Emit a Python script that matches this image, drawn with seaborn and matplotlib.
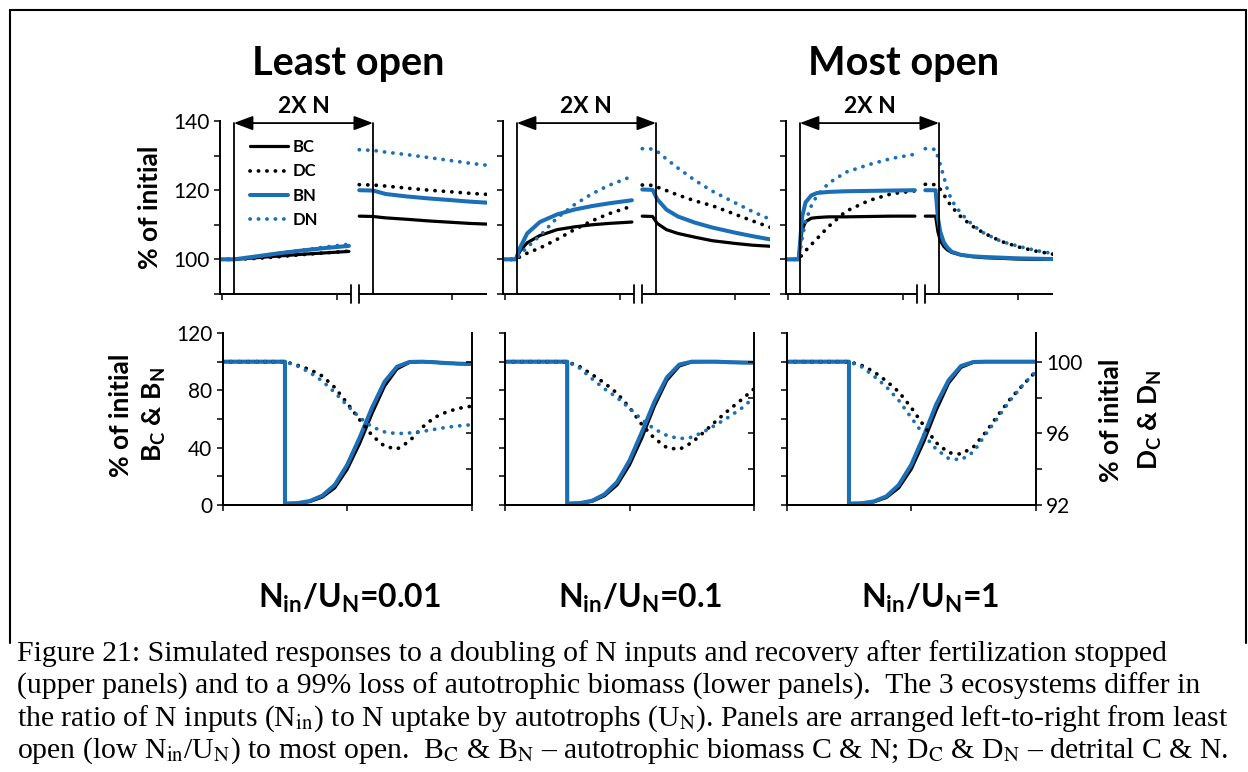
import matplotlib
matplotlib.use("Agg")
import matplotlib.pyplot as plt
from matplotlib.lines import Line2D
import seaborn as sns

# ---------------- upper panels: doubling of N inputs, then recovery ----------------
# time axis (arbitrary units); the axis is broken between the start of
# fertilization and the long-term state reached just before it stops
FERT_ON, FERT_OFF = 0.10, 1.31
BREAK_L, BREAK_R = 1.115, 1.19

# least open (N_in/U_N = 0.01)
p1_t_on = [-0.02, 0.10, 0.30, 0.50, 0.70, 0.90, 1.10]
p1_bc_on = [100, 100, 100.5, 101.0, 101.5, 101.9, 102.3]
p1_dc_on = [100, 100, 100.3, 100.8, 101.4, 101.9, 102.4]
p1_bn_on = [100, 100, 100.9, 101.8, 102.6, 103.3, 103.9]
p1_dn_on = [100, 100, 100.8, 101.8, 102.7, 103.6, 104.4]
p1_t_off = [1.19, 1.31, 1.42, 1.60, 1.80, 2.00, 2.15, 2.30]
p1_bc_off = [112.5, 112.4, 112.0, 111.6, 111.1, 110.7, 110.4, 110.2]
p1_dc_off = [121.6, 121.5, 121.2, 120.6, 120.0, 119.5, 119.1, 118.8]
p1_bn_off = [120.0, 119.9, 118.9, 118.2, 117.6, 117.1, 116.7, 116.4]
p1_dn_off = [131.7, 131.5, 131.0, 130.3, 129.4, 128.5, 127.8, 127.2]

# intermediate (N_in/U_N = 0.1)
p2_t_on = [-0.02, 0.09, 0.13, 0.19, 0.30, 0.45, 0.60, 0.75, 0.90, 1.10]
p2_bc_on = [100, 100, 102.5, 104.8, 106.9, 108.6, 109.4, 110.0, 110.4, 110.8]
p2_dc_on = [100, 100, 100.8, 101.8, 103.3, 105.8, 108.6, 111.1, 113.2, 115.4]
p2_bn_on = [100, 100, 103.5, 107.5, 110.8, 113.0, 114.4, 115.4, 116.2, 117.1]
p2_dn_on = [100, 100, 101.5, 103.5, 106.8, 112.0, 115.8, 118.9, 121.4, 124.0]
p2_t_off = [1.19, 1.28, 1.32, 1.40, 1.50, 1.65, 1.80, 2.00, 2.15, 2.30]
p2_bc_off = [112.5, 112.4, 110.4, 108.6, 107.5, 106.4, 105.4, 104.6, 104.1, 103.8]
p2_dc_off = [121.5, 121.4, 120.9, 119.9, 118.6, 116.9, 115.5, 113.0, 111.1, 109.3]
p2_bn_off = [120.2, 120.1, 117.4, 114.4, 112.4, 110.6, 109.2, 107.7, 106.7, 105.8]
p2_dn_off = [132.0, 131.9, 131.2, 129.0, 126.4, 122.8, 119.7, 116.3, 113.8, 111.6]

# most open (N_in/U_N = 1)
p3_t_on = [-0.02, 0.09, 0.10, 0.12, 0.15, 0.20, 0.25, 0.35, 0.50, 0.70, 0.90, 1.10]
p3_bc_on = [100, 100, 103.5, 108.5, 110.9, 111.9, 112.1, 112.3, 112.3, 112.4, 112.5, 112.5]
p3_dc_on = [100, 100, 100.5, 101.3, 102.5, 104.3, 106.0, 109.5, 113.9, 117.0, 119.0, 119.8]
p3_bn_on = [100, 100, 104.0, 112.3, 116.5, 118.5, 119.2, 119.5, 119.7, 119.8, 119.9, 120.0]
p3_dn_on = [100, 100, 101.5, 106.0, 111.0, 115.5, 118.5, 122.0, 125.2, 127.4, 129.2, 130.4]
p3_t_off = [1.19, 1.28, 1.30, 1.32, 1.35, 1.38, 1.42, 1.50, 1.60, 1.70, 1.85, 2.00, 2.15, 2.30]
p3_bc_off = [112.5, 112.5, 108.0, 105.5, 103.8, 102.8, 102.0, 101.3, 100.8, 100.5, 100.3, 100.1, 100.0, 100.0]
p3_dc_off = [121.7, 121.6, 121.0, 120.3, 118.8, 117.1, 115.2, 112.3, 109.6, 107.6, 105.2, 103.6, 102.4, 101.5]
p3_bn_off = [120.0, 120.0, 112.0, 108.0, 105.0, 103.5, 102.2, 101.3, 100.9, 100.7, 100.5, 100.3, 100.2, 100.1]
p3_dn_off = [132.0, 131.8, 129.5, 127.5, 124.0, 120.5, 117.0, 113.3, 110.0, 107.6, 105.2, 103.8, 102.6, 101.7]

# ---------------- lower panels: 99% loss of autotrophic biomass ----------------
lo_t_b = [0.0, 0.5, 0.5, 0.6, 0.7, 0.8, 0.9, 1.0, 1.1, 1.2, 1.3, 1.4, 1.5, 1.6, 1.7, 1.8, 1.9, 2.0]
lo_t_d = [0.0, 0.5, 0.6, 0.7, 0.8, 0.9, 1.0, 1.1, 1.2, 1.3, 1.4, 1.5, 1.6, 1.7, 1.8, 1.9, 2.0]

q1_bc = [100, 100, 1, 1.2, 2.4, 5.5, 12, 25, 43, 64, 83, 95, 99.5, 100, 99.6, 99.0, 98.6, 98.4]
q1_bn = [100, 100, 1, 1.3, 2.8, 6.5, 14, 28, 47, 68, 86, 96.5, 99.8, 100, 99.6, 99.0, 98.6, 98.4]
q1_dc = [100, 100, 99.80, 99.56, 99.20, 98.56, 97.68, 96.76, 95.88, 95.28, 95.12, 95.56, 96.32, 96.88, 97.20, 97.40, 97.52]
q1_dn = [100, 100, 99.76, 99.40, 98.92, 98.28, 97.56, 96.88, 96.36, 96.08, 95.98, 96.02, 96.10, 96.22, 96.34, 96.42, 96.48]

q2_bc = [100, 100, 1, 1.2, 2.6, 6.5, 14, 28, 47, 69, 87, 97, 99.8, 100, 100, 99.6, 99.4, 99.3]
q2_bn = [100, 100, 1, 1.3, 3.0, 7.5, 16, 31, 51, 72, 89, 98, 100, 100, 100, 99.6, 99.4, 99.3]
q2_dc = [100, 100, 99.72, 99.28, 98.80, 98.24, 97.44, 96.48, 95.72, 95.20, 95.10, 95.48, 96.08, 96.72, 97.32, 97.88, 98.48]
q2_dn = [100, 100, 99.64, 99.04, 98.48, 98.00, 97.40, 96.76, 96.24, 95.88, 95.70, 95.78, 96.10, 96.50, 96.92, 97.40, 98.00]

q3_bc = [100, 100, 1, 1.1, 2.2, 5.2, 12, 25, 44, 66, 85, 96, 99.6, 100, 100, 100, 100, 100]
q3_bn = [100, 100, 1, 1.2, 2.5, 6, 14, 28, 48, 70, 87, 97, 99.8, 100, 100, 100, 100, 100]
q3_dc = [100, 100, 99.80, 99.44, 98.92, 98.32, 97.44, 96.44, 95.48, 94.92, 94.84, 95.24, 96.08, 97.04, 97.96, 98.72, 99.44]
q3_dn = [100, 100, 99.72, 99.20, 98.60, 97.84, 96.88, 95.92, 95.12, 94.60, 94.52, 94.96, 95.96, 96.92, 97.88, 98.72, 99.44]

# labels
col_titles = ["Least open", "Most open"]
ratio_labels = [r"$\mathbf{N_{in}/U_{N}}$=0.01", r"$\mathbf{N_{in}/U_{N}}$=0.1", r"$\mathbf{N_{in}/U_{N}}$=1"]
upper_yticks = [90, 100, 110, 120, 130, 140]
upper_yticklabels = ["", "100", "", "120", "", "140"]
lower_yticks = [0, 20, 40, 60, 80, 100, 120]
lower_yticklabels = ["0", "", "40", "", "80", "", "120"]
det_yticks = [92, 94, 96, 98, 100]
det_yticklabels = ["92", "", "96", "", "100"]
caption_lines = [
    "Figure 21: Simulated responses to a doubling of N inputs and recovery after fertilization stopped",
    "(upper panels) and to a 99% loss of autotrophic biomass (lower panels).  The 3 ecosystems differ in",
    r"the ratio of N inputs (N$_{\mathrm{in}}$) to N uptake by autotrophs (U$_{\mathrm{N}}$). "
    r"Panels are arranged left-to-right from least",
    r"open (low N$_{\mathrm{in}}$/U$_{\mathrm{N}}$) to most open.  B$_{\mathrm{C}}$ & B$_{\mathrm{N}}$"
    r" – autotrophic biomass C & N; D$_{\mathrm{C}}$ & D$_{\mathrm{N}}$ – detrital C & N.",
]

# ---------------- style ----------------
sns.set_theme(style="ticks")
plt.rcParams["font.family"] = ["Lato", "DejaVu Sans"]
plt.rcParams.update({
    "mathtext.fontset": "custom",
    "mathtext.rm": "Lato",
    "mathtext.it": "Lato:italic",
    "mathtext.bf": "Lato:bold",
    "axes.edgecolor": "black",
    "xtick.color": "black",
    "ytick.color": "black",
    "text.color": "black",
})

BLUE = "#1b6fb6"
DOT = (0, (0.05, 2.2))
STYLES = {
    "BC": dict(color="black", lw=2.3, linestyle="-"),
    "DC": dict(color="black", lw=2.7, linestyle=DOT, dash_capstyle="round"),
    "BN": dict(color=BLUE, lw=2.9, linestyle="-"),
    "DN": dict(color=BLUE, lw=2.7, linestyle=DOT, dash_capstyle="round"),
}
SPINE_W = 1.4

W, H = 1248, 772
fig = plt.figure(figsize=(W / 100, H / 100), dpi=100)


def rect(l, t, r, b):
    return [l / W, 1 - b / H, (r - l) / W, (b - t) / H]


def fxy(x, y):
    return x / W, 1 - y / H


def curve(ax, x, y, key, label=None):
    sns.lineplot(x=x, y=y, ax=ax, estimator=None, sort=False, label=label,
                 legend=False, **STYLES[key])


# ---------------- upper row ----------------
upper_sets = [
    (p1_t_on, dict(BC=p1_bc_on, DC=p1_dc_on, BN=p1_bn_on, DN=p1_dn_on),
     p1_t_off, dict(BC=p1_bc_off, DC=p1_dc_off, BN=p1_bn_off, DN=p1_dn_off)),
    (p2_t_on, dict(BC=p2_bc_on, DC=p2_dc_on, BN=p2_bn_on, DN=p2_dn_on),
     p2_t_off, dict(BC=p2_bc_off, DC=p2_dc_off, BN=p2_bn_off, DN=p2_dn_off)),
    (p3_t_on, dict(BC=p3_bc_on, DC=p3_dc_on, BN=p3_bn_on, DN=p3_dn_on),
     p3_t_off, dict(BC=p3_bc_off, DC=p3_dc_off, BN=p3_bn_off, DN=p3_dn_off)),
]
upper_lefts = [220, 503, 786]

for i, (t_on, on, t_off, off) in enumerate(upper_sets):
    left = upper_lefts[i]
    ax = fig.add_axes(rect(left, 121, left + 267, 294))
    for key in ["BC", "DC", "BN", "DN"]:
        curve(ax, t_on, on[key], key, label=key if i == 0 else None)
        curve(ax, t_off, off[key], key)
    ax.set_xlim(-0.02, 2.3)
    ax.set_ylim(90, 140)
    ax.set_xticks([0, 1, 2])
    ax.set_xticklabels([])
    ax.set_yticks(upper_yticks)
    ax.set_yticklabels(upper_yticklabels if i == 0 else [""] * len(upper_yticks))
    for s in ["top", "right", "bottom"]:
        ax.spines[s].set_visible(False)
    ax.spines["left"].set_linewidth(SPINE_W)
    ax.tick_params(axis="both", direction="out", length=4.5, width=1.1,
                   labelsize=15, pad=3)
    xt = ax.get_xaxis_transform()
    # broken time axis
    ax.plot([-0.02, BREAK_L], [0, 0], transform=xt, color="black", lw=SPINE_W,
            clip_on=False, solid_capstyle="butt")
    ax.plot([BREAK_R, 2.3], [0, 0], transform=xt, color="black", lw=SPINE_W,
            clip_on=False, solid_capstyle="butt")
    for xb in (BREAK_L, BREAK_R):
        ax.plot([xb, xb], [-0.052, 0.052], transform=xt, color="black", lw=1.3,
                clip_on=False)
    # fertilization period
    for xf in (FERT_ON, FERT_OFF):
        ax.plot([xf, xf], [0, 0.988], transform=xt, color="black", lw=1.3,
                clip_on=False)
    ax.annotate("", xy=(FERT_ON, 0.988), xytext=(FERT_OFF, 0.988), xycoords=xt,
                textcoords=xt, annotation_clip=False,
                arrowprops=dict(arrowstyle="<|-|>,head_length=0.8,head_width=0.3",
                                color="black", lw=1.3, shrinkA=0, shrinkB=0,
                                mutation_scale=14.5))
    ax.text((FERT_ON + FERT_OFF) / 2, 1.046, "2X N", transform=xt, ha="center",
            va="baseline", fontsize=16.5, fontweight="bold")
    if i == 0:
        handles, labels = ax.get_legend_handles_labels()
        ax.legend(handles, labels, loc="upper left", bbox_to_anchor=fxy(250, 139),
                  bbox_transform=fig.transFigure, frameon=False,
                  prop=dict(size=12, weight="bold"), handlelength=2.3,
                  handletextpad=0.25, labelspacing=0.5, borderpad=0,
                  borderaxespad=0)

# ---------------- lower row ----------------
lower_sets = [
    (q1_bc, q1_bn, q1_dc, q1_dn),
    (q2_bc, q2_bn, q2_dc, q2_dn),
    (q3_bc, q3_bn, q3_dc, q3_dn),
]
lower_lefts = [222.7, 505, 786.7]

for i, (bc, bn, dc, dn) in enumerate(lower_sets):
    left = lower_lefts[i]
    ax = fig.add_axes(rect(left, 333, left + 249, 505))
    ax2 = ax.twinx()
    curve(ax, lo_t_b, bc, "BC")
    curve(ax, lo_t_b, bn, "BN")
    curve(ax2, lo_t_d, dc, "DC")
    curve(ax2, lo_t_d, dn, "DN")
    ax.set_xlim(0, 2)
    ax.set_ylim(0, 120)
    ax2.set_ylim(92, 101.6)
    ax.set_xticks([0, 1, 2])
    ax.set_xticklabels([])
    ax.set_yticks(lower_yticks)
    ax.set_yticklabels(lower_yticklabels if i == 0 else [""] * len(lower_yticks))
    ax2.set_yticks(det_yticks)
    ax2.set_yticklabels(det_yticklabels if i == 2 else [""] * len(det_yticks))
    for a in (ax, ax2):
        a.spines["top"].set_visible(False)
        for s in ["left", "bottom", "right"]:
            a.spines[s].set_linewidth(SPINE_W)
    ax.spines["right"].set_visible(False)
    ax.tick_params(axis="both", direction="out", length=4.5, width=1.1,
                   labelsize=15, pad=3)
    ax2.tick_params(axis="y", direction="out" if i == 2 else "in", length=4.5,
                    width=1.1, labelsize=15, pad=3)

# ---------------- text ----------------
fig.text(*fxy(348, 75), col_titles[0], ha="center", va="baseline", fontsize=28.5,
         fontweight="bold")
fig.text(*fxy(904, 75), col_titles[1], ha="center", va="baseline", fontsize=28.5,
         fontweight="bold")

fig.text(*fxy(150, 207), "% of initial", rotation=90, ha="center", va="center",
         fontsize=19, fontweight="bold")
fig.text(*fxy(121, 415), "% of initial", rotation=90, ha="center", va="center",
         fontsize=19, fontweight="bold")
fig.text(*fxy(154, 415), r"$\mathbf{B_{C}}$ & $\mathbf{B_{N}}$", rotation=90,
         ha="center", va="center", fontsize=19, fontweight="bold")
fig.text(*fxy(1111, 420), "% of initial", rotation=90, ha="center", va="center",
         fontsize=19, fontweight="bold")
fig.text(*fxy(1150, 420), r"$\mathbf{D_{C}}$ & $\mathbf{D_{N}}$", rotation=90,
         ha="center", va="center", fontsize=19, fontweight="bold")

for label, xc in zip(ratio_labels, [349, 640, 930]):
    fig.text(*fxy(xc, 608), label, ha="center", va="baseline", fontsize=23,
             fontweight="bold")

for k, line in enumerate(caption_lines):
    fig.text(*fxy(17, 661 + 32.3 * k), line, ha="left", va="baseline", fontsize=21.4,
             family="Liberation Serif", math_fontfamily="stix")

# frame around the figure panels
frame = dict(transform=fig.transFigure, color="black", lw=1.5)
fig.add_artist(Line2D([10 / W, 10 / W], [1 - 643 / H, 1 - 10 / H], **frame))
fig.add_artist(Line2D([10 / W, 1246 / W], [1 - 10 / H, 1 - 10 / H], **frame))
fig.add_artist(Line2D([1246 / W, 1246 / W], [1 - 10 / H, 1 - 643 / H], **frame))

fig.savefig("out.png", dpi=100)
